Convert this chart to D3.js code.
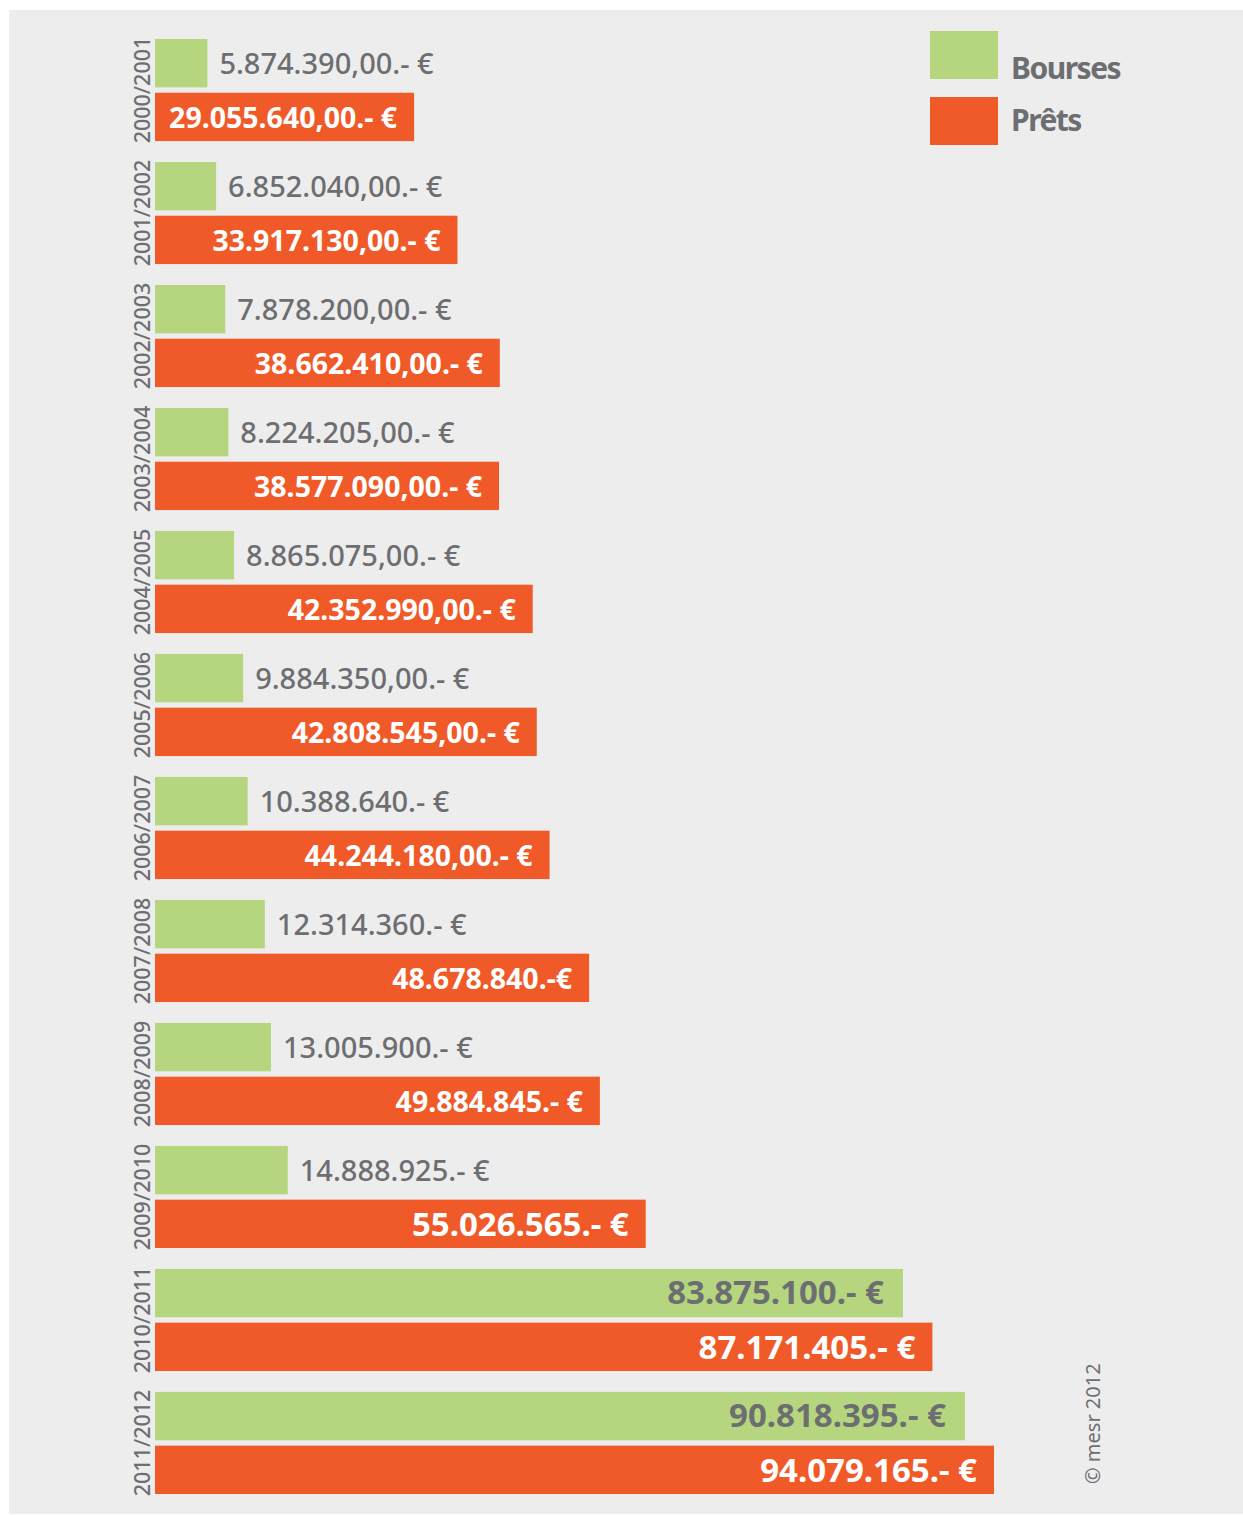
<!DOCTYPE html>
<html>
<head>
<meta charset="utf-8">
<script src="https://cdn.jsdelivr.net/npm/d3@7"></script>
<style>
  body { margin: 0; background: #fff; }
  text { font-family: "Noto Sans", sans-serif; }
</style>
</head>
<body>
<svg width="1243" height="1515"></svg>
<script>
var years = ['2000/2001','2001/2002','2002/2003','2003/2004','2004/2005','2005/2006',
             '2006/2007','2007/2008','2008/2009','2009/2010','2010/2011','2011/2012']
var bourses = [5874390, 6852040, 7878200, 8224205, 8865075, 9884350,
               10388640, 12314360, 13005900, 14888925, 83875100, 90818395]
var prets = [29055640, 33917130, 38662410, 38577090, 42352990, 42808545,
             44244180, 48678840, 49884845, 55026565, 87171405, 94079165]
var boursesLbl = ['5.874.390,00.- €','6.852.040,00.- €','7.878.200,00.- €','8.224.205,00.- €',
                  '8.865.075,00.- €','9.884.350,00.- €','10.388.640.- €','12.314.360.- €',
                  '13.005.900.- €','14.888.925.- €','83.875.100.- €','90.818.395.- €']
var pretsLbl = ['29.055.640,00.- €','33.917.130,00.- €','38.662.410,00.- €','38.577.090,00.- €',
                '42.352.990,00.- €','42.808.545,00.- €','44.244.180,00.- €','48.678.840.-€',
                '49.884.845.- €','55.026.565.- €','87.171.405.- €','94.079.165.- €']
var series = ['Bourses','Prêts']

var green = '#b5d67f', red = '#f05a28', grey = '#6d6e71'

var svg = d3.select('svg')

// panel
svg.append('rect').attr('x', 9).attr('y', 10).attr('width', 1234).attr('height', 1504)
    .attr('fill', '#ededed')

var x = d3.scaleLinear().domain([0, d3.max(prets)]).range([155, 994])
var y = d3.scaleBand().domain(years).range([39, 1494]).paddingInner(0.17).paddingOuter(0)
var sub = d3.scaleBand().domain(series).range([0, y.bandwidth()]).paddingInner(0.1)

var rows = years.map(function(yr, i) {
  return {year: yr, b: bourses[i], p: prets[i], bl: boursesLbl[i], pl: pretsLbl[i]}
})

var g = svg.selectAll('.grp').data(rows).enter().append('g')
    .attr('class', 'grp')
    .attr('transform', function(d) { return 'translate(0,' + y(d.year) + ')' })

var mid = sub.bandwidth() / 2
var big = 50e6   // above this the labels are drawn larger, inside the bar

// bourses bars
g.append('rect')
    .attr('x', x(0)).attr('y', sub('Bourses'))
    .attr('width', function(d) { return x(d.b) - x(0) })
    .attr('height', sub.bandwidth())
    .attr('fill', green)

// prets bars
g.append('rect')
    .attr('x', x(0)).attr('y', sub('Prêts'))
    .attr('width', function(d) { return x(d.p) - x(0) })
    .attr('height', sub.bandwidth())
    .attr('fill', red)

// bourses labels: outside when bar is short, inside when long
g.append('text')
    .attr('x', function(d) { return d.b > big ? x(d.b) - 19 : x(d.b) + 12 })
    .attr('y', function(d) { return sub('Bourses') + mid + (d.b > big ? 11 : 10.5) })
    .attr('text-anchor', function(d) { return d.b > big ? 'end' : 'start' })
    .attr('font-size', function(d) { return d.b > big ? 33 : 29 })
    .attr('font-weight', function(d) { return d.b > big ? 700 : 500 })
    .attr('fill', grey)
    .text(function(d) { return d.bl })

// prets labels
g.append('text')
    .attr('x', function(d) { return x(d.p) - 17 })
    .attr('y', function(d) { return sub('Prêts') + mid + (d.p > big ? 12 : 11) })
    .attr('text-anchor', 'end')
    .attr('font-size', function(d) { return d.p > big ? 33 : 28.5 })
    .attr('font-weight', 700)
    .attr('fill', '#fff')
    .text(function(d) { return d.pl })

// year labels, rotated
g.append('text')
    .attr('transform', 'translate(150,' + y.bandwidth() / 2 + ') rotate(-90)')
    .attr('text-anchor', 'middle')
    .attr('font-size', 21.5)
    .attr('font-weight', 500)
    .attr('fill', grey)
    .text(function(d) { return d.year })

// legend
var leg = svg.append('g').attr('transform', 'translate(930,31)')
series.forEach(function(s, i) {
  leg.append('rect').attr('x', 0).attr('y', i * 66).attr('width', 68).attr('height', 48)
      .attr('fill', i == 0 ? green : red)
  leg.append('text').attr('x', 81).attr('y', i * 52 + 48)
      .attr('font-size', 30).attr('font-weight', 700).attr('letter-spacing', -1.5)
      .attr('fill', grey).text(s)
})

svg.append('text')
    .attr('transform', 'translate(1100,1484) rotate(-90)')
    .attr('font-size', 20)
    .attr('fill', grey)
    .text('© mesr 2012')
</script>
</body>
</html>
